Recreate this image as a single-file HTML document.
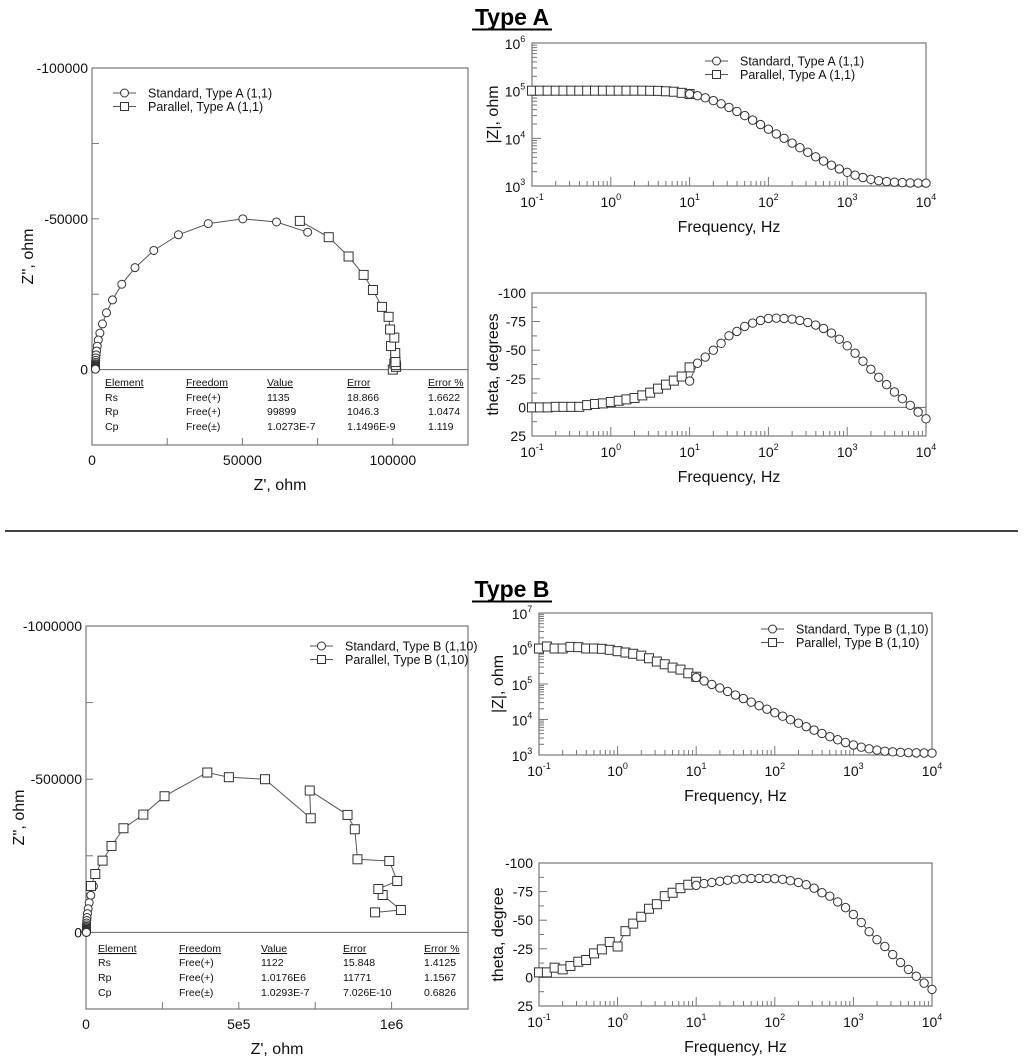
<!DOCTYPE html>
<html><head><meta charset="utf-8">
<style>
html,body{margin:0;padding:0;background:#fff;}
svg{display:block;font-family:"Liberation Sans",Arial,sans-serif;}
</style></head>
<body>
<svg id="fig" width="1024" height="1064" viewBox="0 0 1024 1064">
  <text x="512" y="25" text-anchor="middle" font-size="23" font-weight="bold">Type A</text>
  <line x1="472" y1="29.5" x2="552" y2="29.5" stroke="#000" stroke-width="2"/>
  <line x1="5" y1="531" x2="1018" y2="531" stroke="#444" stroke-width="2"/>
  <text x="512" y="597" text-anchor="middle" font-size="23" font-weight="bold">Type B</text>
  <line x1="472" y1="601.5" x2="552" y2="601.5" stroke="#000" stroke-width="2"/>
</svg>
<script>
// ---------- DATA ----------
const freqLow = [0.1,0.126,0.158,0.2,0.251,0.316,0.398,0.501,0.631,0.794,1,1.26,1.58,2,2.51,3.16,3.98,5.01,6.31,7.94,10];
const freqHigh = [10,12.6,15.8,20,25.1,31.6,39.8,50.1,63.1,79.4,100,126,158,200,251,316,398,501,631,794,1000,1259,1585,1995,2512,3162,3981,5012,6310,7943,10000];

const nyqAStdRe = [71700,61335,50135,38640,28735,20535,14295,9900,6815,4815,3485,2625,2095,1735,1515,1375,1286,1231,1195,1173,1159,1150,1145,1141,1139,1137,1136,1135,1135,1135,1135];
const nyqAStdIm = [45550,48950,49980,48400,44700,39500,33800,28300,23100,18840,15150,12110,9800,7750,6170,4900,3890,3095,2457,1953,1550,1230,980,775,617,490,389,310,246,195,155];
const nyqAParRe = [100000,101100,100500,100800,100800,101000,100900,99400,100500,99100,98600,96400,93400,90300,85300,78700,69100];
const nyqAParIm = [0,900,2000,3700,5500,1500,2500,7800,10600,13300,17500,20800,26400,31400,37500,43900,49300];

const magAStd = [84900,78470,70800,61900,53100,44500,36700,30000,24100,19450,15550,12390,10020,7940,6350,5090,4100,3330,2730,2280,1935,1684,1507,1380,1295,1238,1200,1177,1162,1152,1146];
const magAPar = [100000,100000,100000,100000,100000,100000,100000,100000,100000,100000,100000,100000,100000,100000,100000,99500,99000,97000,95000,90000,85000];
const phAStd = [-23,-38.6,-44,-50,-56,-62.6,-66.4,-70.8,-73.7,-76,-77.8,-78,-77.8,-77.2,-76,-74.3,-72,-69,-65,-59.6,-53.8,-47.4,-40.4,-33.3,-26.3,-19.9,-13.5,-7.6,-1.8,4.1,10];
const phAPar = [0,0,0,-0.5,-0.5,-0.5,-0.5,-2,-3,-3.5,-4.7,-5.8,-7,-8.2,-10.5,-12.9,-16.4,-19.9,-23.4,-27,-35];

const nyqBStdRe = [24100,15740,10390,6990,4836,3470,2600,2055,1713,1495,1357,1270,1216,1181,1159,1145,1137,1131,1128,1126,1124,1123,1123,1122,1122,1122,1122,1122,1122,1122,1122];
const nyqBStdIm = [151000,121000,96700,77000,61400,48800,38800,30800,24500,19500,15460,12290,9780,7770,6170,4890,3880,3085,2450,1950,1547,1229,976,775,616,489,389,309,245,195,155];
const nyqBParRe = [945800,1030400,970700,956600,1018400,992400,888300,879600,855800,732100,735400,585700,467500,397000,257000,187600,122600,83500,54200,30400,16300];
const nyqBParIm = [65400,73000,122000,141600,167800,233100,238600,336600,383400,463000,372500,500000,506500,521800,444400,384500,339900,282100,234200,190600,151400];

const magBStd = [152900,122000,97300,77300,61600,48900,38900,30870,24560,19560,15520,12360,9855,7860,6275,5020,4040,3284,2690,2250,1913,1664,1490,1375,1280,1226,1187,1163,1148,1139,1133];
const magBPar = [1000000,1140000,1000000,1000000,1110000,1090000,1000000,1000000,980000,920000,840000,770000,710000,630000,530000,430000,360000,290000,255000,200000,160000];
const phBStd = [-80.5,-82,-83,-84,-85,-85.7,-86.3,-86.5,-86.5,-86.5,-86.3,-85.7,-84.5,-83,-81,-78,-74,-71,-66,-61,-55,-48,-40,-33,-27,-20,-13,-7,-1,5,10.5];
const phBPar = [-4.4,-4.4,-8.5,-7,-10,-13.7,-15.2,-21,-24.5,-31,-27,-40.4,-47,-53,-60,-64,-71,-74,-78,-81,-83.6];

const nyqATickVals = [100000,50000,0];
const nyqATickLabels = ['-100000','-50000','0'];
const nyqAXTickVals = [0,50000,100000];
const nyqAXTickLabels = ['0','50000','100000'];
const nyqBTickVals = [1000000,500000,0];
const nyqBTickLabels = ['-1000000','-500000','0'];
const nyqBXTickVals = [0,500000,1000000];
const nyqBXTickLabels = ['0','5e5','1e6'];
const phTickVals = [-100,-75,-50,-25,0,25];
const phTickLabels = ['-100','-75','-50','-25','0','25'];

const tableHeaders = ['Element','Freedom','Value','Error','Error %'];
const tableARows = [['Rs','Free(+)','1135','18.866','1.6622'],['Rp','Free(+)','99899','1046.3','1.0474'],['Cp','Free(\u00b1)','1.0273E-7','1.1496E-9','1.119']];
const tableBRows = [['Rs','Free(+)','1122','15.848','1.4125'],['Rp','Free(+)','1.0176E6','11771','1.1567'],['Cp','Free(\u00b1)','1.0293E-7','7.026E-10','0.6826']];

// ---------- HELPERS ----------
const NS = 'http://www.w3.org/2000/svg';
const fig = document.getElementById('fig');
function el(tag, attrs, parent){
  const e = document.createElementNS(NS, tag);
  for (const k in attrs) e.setAttribute(k, attrs[k]);
  (parent||fig).appendChild(e);
  return e;
}
function lin(d0,d1,r0,r1){return v => r0 + (v-d0)/(d1-d0)*(r1-r0);}
function lg(d0,d1,r0,r1){const a=Math.log10(d0),b=Math.log10(d1);return v => r0 + (Math.log10(v)-a)/(b-a)*(r1-r0);}

function frame(x0,y0,x1,y1,name){
  const r = el('rect',{x:x0,y:y0,width:x1-x0,height:y1-y0,fill:'none',stroke:'#777','stroke-width':1.2});
  
  
}
function txt(x,y,s,size,anchor,name,extra){
  const t = el('text',Object.assign({x:x,y:y,'font-size':size,'text-anchor':anchor||'start',fill:'#111'},extra||{}));
  t.textContent = s;
  
  
  return t;
}
function powLabel(x,y,exp,name){
  const t = el('text',{x:x,y:y,'font-size':14,'text-anchor':'middle',fill:'#111'});
  
  
  const a = el('tspan',{},t); a.textContent='10';
  const b = el('tspan',{dy:-7,'font-size':9},b0=t); b.textContent=String(exp);
  return t;
}
function tick(x1,y1,x2,y2,name){
  const l = el('line',{x1:x1,y1:y1,x2:x2,y2:y2,stroke:'#777','stroke-width':1});
  
  
}
function marker(g,x,y,shape,r){
  let m;
  if (shape==='circle') m = el('circle',{cx:x,cy:y,r:r,fill:'#fff',stroke:'#333','stroke-width':1},g);
  else m = el('rect',{x:x-r,y:y-r,width:2*r,height:2*r,fill:'#fff',stroke:'#333','stroke-width':1},g);
  
  
}
function series(xs,ys,sx,sy,shape,name,r){
  const g = el('g',{});
  
  
  const pts = xs.map((x,i)=>sx(x).toFixed(1)+','+sy(ys[i]).toFixed(1)).join(' ');
  const pl = el('polyline',{points:pts,fill:'none',stroke:'#555','stroke-width':1},g);
  
  
  xs.forEach((x,i)=>marker(g,sx(x),sy(ys[i]),shape,r||4));
}
function legend(x,y,labels,name){
  const g = el('g',{});
  
  
  labels.forEach((s,i)=>{
    const yy = y + i*13.5;
    el('line',{x1:x,y1:yy,x2:x+23,y2:yy,stroke:'#555','stroke-width':1},g);
    marker(g,x+11.5,yy,i===0?'circle':'square',4);
    const t = el('text',{x:x+35,y:yy+4.5,'font-size':12.5,fill:'#111'},g);
    t.textContent = s;
    
    
  });
}
function table(cols,rowsY,rows,name){
  const g = el('g',{});
  
  
  tableHeaders.forEach((h,i)=>{
    const t = el('text',{x:cols[i],y:rowsY[0],'font-size':10.5,fill:'#111','text-decoration':'underline'},g);
    t.textContent = h;
    
    
  });
  rows.forEach((row,j)=>row.forEach((c,i)=>{
    const t = el('text',{x:cols[i],y:rowsY[j+1],'font-size':10.5,fill:'#111'},g);
    t.textContent = c;
    
    
  }));
}

// ---------- NYQUIST ----------
function nyquist(o){
  const sx = lin(0,o.xmax,o.x0,o.x1), sy = lin(-o.ymax/4,o.ymax,o.y1,o.y0);
  frame(o.x0,o.y0,o.x1,o.y1,o.name);
  const zl = el('line',{x1:o.x0,y1:sy(0),x2:o.x1,y2:sy(0),stroke:'#666','stroke-width':1});
  
  
  for (let v=-o.ymax/4; v<=o.ymax; v+=o.ymax/4) tick(o.x0,sy(v),o.x0+7,sy(v),'y-tick');
  for (let v=0; v<=o.xmax; v+=o.xmax/5) tick(sx(v),o.y1,sx(v),o.y1-7,'x-tick');
  o.yv.forEach((v,i)=>txt(o.x0-4,sy(v)+5,o.yl[i],14,'end','y-tick-label'));
  o.xv.forEach((v,i)=>txt(sx(v),o.y1+20,o.xl[i],14,'middle','x-tick-label'));
  txt((o.x0+o.x1)/2,o.y1+45,"Z', ohm",16,'middle','x-axis-title');
  txt(0,0,"Z'', ohm",16,'middle','y-axis-title',{transform:'translate('+o.ytx+','+((o.y0+o.y1)/2)+') rotate(-90)'});
  series(o.sRe,o.sIm,sx,sy,'circle',o.name+'-standard-series',4);
  series(o.pRe,o.pIm,sx,sy,'square',o.name+'-parallel-series',4.5);
  legend(o.lx,o.ly,o.leg,o.name+'-legend');
  table(o.tc,o.tr,o.rows,o.name+'-fit-table');
}
nyquist({name:'nyquist-a',x0:92,x1:468,y0:68,y1:445,xmax:125000,ymax:100000,yv:nyqATickVals,yl:nyqATickLabels,xv:nyqAXTickVals,xl:nyqAXTickLabels,ytx:33,
  sRe:nyqAStdRe,sIm:nyqAStdIm,pRe:nyqAParRe,pIm:nyqAParIm,lx:113,ly:93,leg:['Standard, Type A (1,1)','Parallel, Type A (1,1)'],
  tc:[105,186,267,347,428],tr:[386,401,415,430],rows:tableARows});
nyquist({name:'nyquist-b',x0:86,x1:468,y0:626,y1:1009,xmax:1250000,ymax:1000000,yv:nyqBTickVals,yl:nyqBTickLabels,xv:nyqBXTickVals,xl:nyqBXTickLabels,ytx:24,
  sRe:nyqBStdRe,sIm:nyqBStdIm,pRe:nyqBParRe,pIm:nyqBParIm,lx:310,ly:646,leg:['Standard, Type B (1,10)','Parallel, Type B (1,10)'],
  tc:[98,179,261,343,424],tr:[952,966,981,996],rows:tableBRows});

// ---------- BODE ----------
function xLogAxis(sx,x0,x1,y1,name){
  for (let e=-1;e<4;e++) for (let m=1;m<10;m++){
    const v = m*Math.pow(10,e);
    tick(sx(v),y1,sx(v),y1-(m===1?9:5),'x-tick');
  }
  for (let e=-1;e<=4;e++) powLabel(sx(Math.pow(10,e)),y1+21,e,'x-tick-label');
  txt((x0+x1)/2,y1+46,'Frequency, Hz',16,'middle',name+'-x-axis-title');
}
function bodeMag(o){
  const sx = lg(0.1,10000,o.x0,o.x1), sy = lg(1000,o.ymax,o.y1,o.y0);
  frame(o.x0,o.y0,o.x1,o.y1,o.name);
  xLogAxis(sx,o.x0,o.x1,o.y1,o.name);
  const emax = Math.round(Math.log10(o.ymax));
  for (let e=3;e<emax;e++) for (let m=1;m<10;m++){
    const v=m*Math.pow(10,e);
    tick(o.x0,sy(v),o.x0+(m===1?9:5),sy(v),'y-tick');
  }
  for (let e=3;e<=emax;e++) powLabel(o.x0-17,sy(Math.pow(10,e))+6,e,'y-tick-label');
  txt(0,0,'|Z|, ohm',16,'middle',o.name+'-y-axis-title',{transform:'translate('+o.ytx+','+((o.y0+o.y1)/2)+') rotate(-90)'});
  series(freqLow,o.par,sx,sy,'square',o.name+'-parallel-series',4.5);
  series(freqHigh,o.std,sx,sy,'circle',o.name+'-standard-series',4.2);
  legend(o.lx,o.ly,o.leg,o.name+'-legend');
}
function bodePhase(o){
  const sx = lg(0.1,10000,o.x0,o.x1), sy = lin(25,-100,o.y1,o.y0);
  frame(o.x0,o.y0,o.x1,o.y1,o.name);
  const zl = el('line',{x1:o.x0,y1:sy(0),x2:o.x1,y2:sy(0),stroke:'#666','stroke-width':1});
  
  
  xLogAxis(sx,o.x0,o.x1,o.y1,o.name);
  for (let v=-87.5; v<=25; v+=12.5) tick(o.x0,sy(v),o.x0+(v%25===0?8:5),sy(v),'y-tick');
  phTickVals.forEach((v,i)=>txt(o.x0-6,sy(v)+5,phTickLabels[i],14,'end','y-tick-label'));
  txt(0,0,o.ytitle,16,'middle',o.name+'-y-axis-title',{transform:'translate('+o.ytx+','+((o.y0+o.y1)/2)+') rotate(-90)'});
  series(freqLow,o.par,sx,sy,'square',o.name+'-parallel-series',4.5);
  series(freqHigh,o.std,sx,sy,'circle',o.name+'-standard-series',4.2);
}
bodeMag({name:'bode-mag-a',x0:532,x1:926,y0:43,y1:186,ymax:1e6,std:magAStd,par:magAPar,ytx:498,lx:705,ly:61,leg:['Standard, Type A (1,1)','Parallel, Type A (1,1)']});
bodePhase({name:'bode-phase-a',x0:532,x1:926,y0:293,y1:436,std:phAStd,par:phAPar,ytx:498,ytitle:'theta, degrees'});
bodeMag({name:'bode-mag-b',x0:539,x1:932,y0:613,y1:755,ymax:1e7,std:magBStd,par:magBPar,ytx:503,lx:761,ly:629,leg:['Standard, Type B (1,10)','Parallel, Type B (1,10)']});
bodePhase({name:'bode-phase-b',x0:539,x1:932,y0:863,y1:1006,std:phBStd,par:phBPar,ytx:503,ytitle:'theta, degree'});
</script>
</body></html>
